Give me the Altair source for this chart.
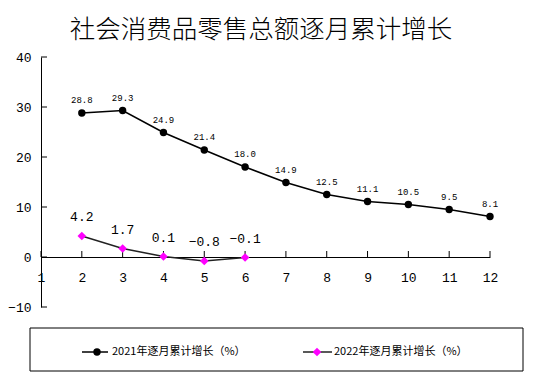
import altair as alt
import pandas as pd

# ---- data ----
months_2021 = [2, 3, 4, 5, 6, 7, 8, 9, 10, 11, 12]
values_2021 = [28.8, 29.3, 24.9, 21.4, 18.0, 14.9, 12.5, 11.1, 10.5, 9.5, 8.1]
months_2022 = [2, 3, 4, 5, 6]
values_2022 = [4.2, 1.7, 0.1, -0.8, -0.1]
x_ticks = list(range(1, 13))
y_ticks = [-10, 0, 10, 20, 30, 40]
title_text = "社会消费品零售总额逐月累计增长"
series_names = ["2021年逐月累计增长（%）", "2022年逐月累计增长（%）"]

NUM_FONT = "Liberation Mono"
CJK_FONT = "Noto Sans CJK SC"

df21 = pd.DataFrame({"m": months_2021, "v": values_2021})
df22 = pd.DataFrame({"m": months_2022, "v": values_2022})
dfx = pd.DataFrame({"m": x_ticks})
dfy = pd.DataFrame({"t": y_ticks})

xs = alt.Scale(domain=[1, 12], nice=False, zero=False)
ys = alt.Scale(domain=[-10, 40], nice=False, zero=False)

x_axis = alt.Axis(values=x_ticks, tickSize=0, offset=-50, labelPadding=14,
                  labelFont=NUM_FONT, labelFontSize=13, labelColor="black",
                  domainColor="black", grid=False, title=None, labelFlush=False,
                  format="d")
y_axis = alt.Axis(values=y_ticks, tickSize=0, labelPadding=10,
                  labelFont=NUM_FONT, labelFontSize=13, labelColor="black",
                  domainColor="black", grid=False, title=None, format="d")

line21 = alt.Chart(df21).mark_line(color="black", strokeWidth=1.5).encode(
    x=alt.X("m:Q", scale=xs, axis=x_axis),
    y=alt.Y("v:Q", scale=ys, axis=y_axis),
)
pts21 = alt.Chart(df21).mark_point(filled=True, shape="circle", size=55,
                                     color="black", opacity=1).encode(
    x=alt.X("m:Q"), y=alt.Y("v:Q"))
lab21 = alt.Chart(df21).mark_text(dy=-13, fontSize=9, font=NUM_FONT,
                                   color="black").encode(
    x="m:Q", y="v:Q", text=alt.Text("v:Q", format=".1f"))

line22 = alt.Chart(df22).mark_line(color="#222222", strokeWidth=1.5).encode(
    x="m:Q", y="v:Q")
pts22 = alt.Chart(df22).mark_point(filled=True, shape="diamond", size=75,
                                     color="#FF00FF", opacity=1).encode(
    x="m:Q", y="v:Q")
lab22 = alt.Chart(df22).mark_text(dy=-19, fontSize=13, font=NUM_FONT,
                                   color="black").encode(
    x="m:Q", y="v:Q", text=alt.Text("v:Q", format=".1f"))

xticks = alt.Chart(dfx).mark_rule(color="black", strokeWidth=1).encode(
    x="m:Q", y=alt.datum(0), y2=alt.datum(1.2))
yticks = alt.Chart(dfy).mark_rule(color="black", strokeWidth=1).encode(
    y="t:Q", x=alt.value(0), x2=alt.value(6))

title = alt.Chart(pd.DataFrame({"t": [title_text]})).mark_text(
    font=CJK_FONT, fontSize=25.5, fontWeight=300, color="black",
    baseline="middle", align="center"
).encode(text="t:N", x=alt.value(220), y=alt.value(-27))

# legend box and entries
leg_box = alt.Chart(pd.DataFrame({"n": [0]})).mark_rect(
    fillOpacity=0, stroke="black", strokeWidth=1
).encode(x=alt.value(-11), x2=alt.value(482), y=alt.value(271), y2=alt.value(314))

d1 = pd.DataFrame({"n": [series_names[0]]})
d2 = pd.DataFrame({"n": [series_names[1]]})
leg_l1 = alt.Chart(d1).mark_rule(color="black", strokeWidth=1.5).encode(
    x=alt.value(41), x2=alt.value(67), y=alt.value(295))
leg_p1 = alt.Chart(d1).mark_point(filled=True, shape="circle", size=55,
                                   color="black", opacity=1).encode(
    x=alt.value(56), y=alt.value(295))
leg_t1 = alt.Chart(d1).mark_text(font=CJK_FONT, fontSize=11, align="left",
                                  baseline="middle", color="black").encode(
    text="n:N", x=alt.value(71), y=alt.value(295))
leg_l2 = alt.Chart(d2).mark_rule(color="#222222", strokeWidth=1.5).encode(
    x=alt.value(262), x2=alt.value(291), y=alt.value(295))
leg_p2 = alt.Chart(d2).mark_point(filled=True, shape="diamond", size=75,
                                   color="#FF00FF", opacity=1).encode(
    x=alt.value(276), y=alt.value(295))
leg_t2 = alt.Chart(d2).mark_text(font=CJK_FONT, fontSize=11, align="left",
                                  baseline="middle", color="black").encode(
    text="n:N", x=alt.value(293), y=alt.value(295))

chart = alt.layer(
    line21, xticks, yticks, pts21, lab21, line22, pts22, lab22, title,
    leg_box, leg_l1, leg_p1, leg_t1, leg_l2, leg_p2, leg_t2
).properties(
    width=449, height=250,
    autosize=alt.AutoSizeParams(type="none"),
    padding={"left": 33, "top": 49, "right": 46, "bottom": 73},
    background="white",
).configure_view(stroke=None)

chart.save("out.html", embed_options={"renderer": "svg", "actions": False})
